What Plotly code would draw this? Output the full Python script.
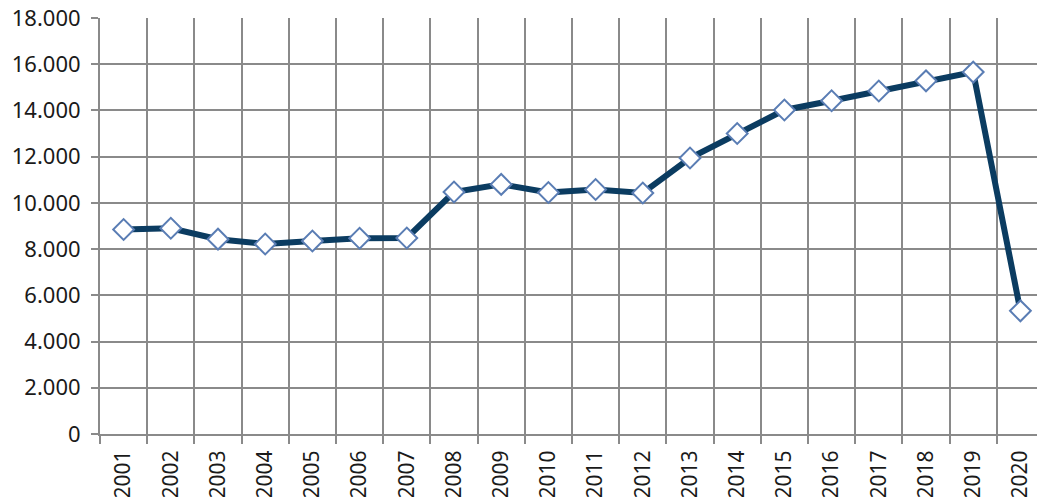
import plotly.graph_objects as go

years = [str(y) for y in range(2001, 2021)]
values = [8850, 8900, 8430, 8220, 8350, 8470, 8480, 10470, 10800, 10450,
          10580, 10430, 11940, 13000, 14020, 14420, 14840, 15280, 15660, 5330]

fig = go.Figure()
fig.add_trace(go.Scatter(
    x=years, y=values, mode="lines+markers",
    line=dict(color="#0B3C61", width=6),
    marker=dict(symbol="diamond", size=16, color="white",
                line=dict(color="#5A7DB4", width=2)),
    showlegend=False,
))

fig.update_layout(
    width=1037, height=489,
    margin=dict(l=92, r=1, t=10, b=63),
    paper_bgcolor="white", plot_bgcolor="white",
    separators=",.",
    font=dict(family="Noto Sans", size=22, color="#1a1a1a"),
)
fig.update_xaxes(
    type="category", tickson="boundaries", showgrid=True,
    gridcolor="#8a8a8a", gridwidth=2,
    ticks="outside", ticklen=8, tickcolor="#8a8a8a", tickwidth=2,
    tickangle=-90, tickfont=dict(family="Noto Sans", size=21, color="#1a1a1a"),
    showline=True, linecolor="#8a8a8a", linewidth=2,
    range=[-0.5, 19.5], ticklabelstandoff=6, ticklabeloverflow="allow",
    automargin=False,
)
fig.update_yaxes(
    range=[0, 18000], dtick=2000, tickformat=",",
    showgrid=True, gridcolor="#8a8a8a", gridwidth=2,
    showline=True, linecolor="#8a8a8a", linewidth=2,
    zeroline=False, ticks="outside", ticklen=7, tickcolor="#8a8a8a", tickwidth=2,
    ticklabelstandoff=6, ticklabeloverflow="allow", automargin=False,
)

fig.write_html("out.html")
